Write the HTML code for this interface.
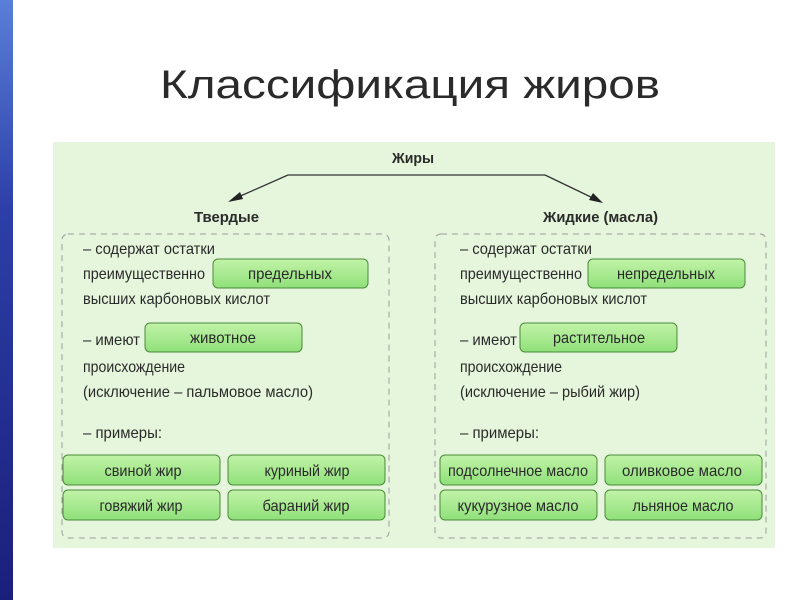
<!DOCTYPE html>
<html><head><meta charset="utf-8"><style>
html,body{margin:0;padding:0;width:800px;height:600px;overflow:hidden;background:#fff}
svg{display:block}
text{font-family:"Liberation Sans",sans-serif;fill:#2a2a2a}
</style></head><body>
<svg width="800" height="600" viewBox="0 0 800 600">
<defs>
<linearGradient id="bl" x1="0" y1="0" x2="0" y2="1">
<stop offset="0" stop-color="#5a7fd8"/><stop offset="0.35" stop-color="#2c3fa8"/><stop offset="1" stop-color="#1a1f7a"/>
</linearGradient>
<linearGradient id="gb" x1="0" y1="0" x2="0" y2="1">
<stop offset="0" stop-color="#c2f3a8"/><stop offset="1" stop-color="#8fe07a"/>
</linearGradient>
</defs>
<rect x="0" y="0" width="13" height="600" fill="url(#bl)"/>
<text x="160" y="98" font-size="40" textLength="500" lengthAdjust="spacingAndGlyphs" fill="#111">Классификация жиров</text>
<rect x="53" y="142" width="722" height="406" fill="#e5f6dc"/>
<text x="392" y="163" font-size="15" font-weight="bold" textLength="42" lengthAdjust="spacingAndGlyphs">Жиры</text>
<polyline points="288,175 545,175" stroke="#333" stroke-width="1.3" fill="none"/>
<line x1="288" y1="175" x2="236" y2="198" stroke="#333" stroke-width="1.3"/>
<polygon points="228,202 240,192 243,199" fill="#222"/>
<line x1="545" y1="175" x2="595" y2="199" stroke="#333" stroke-width="1.3"/>
<polygon points="603,203 589,200 593,193" fill="#222"/>
<text x="194" y="222" font-size="15" font-weight="bold" textLength="65" lengthAdjust="spacingAndGlyphs">Твердые</text>
<text x="543" y="222" font-size="15" font-weight="bold" textLength="115" lengthAdjust="spacingAndGlyphs">Жидкие (масла)</text>
<rect x="62" y="234" width="327" height="304" rx="6" fill="none" stroke="#9c9c9c" stroke-dasharray="6,5"/>
<rect x="435" y="234" width="331" height="304" rx="6" fill="none" stroke="#9c9c9c" stroke-dasharray="6,5"/>
<g font-size="16">
<text x="83" y="254" textLength="132" lengthAdjust="spacingAndGlyphs">– содержат остатки</text>
<text x="83" y="279" textLength="122" lengthAdjust="spacingAndGlyphs">преимущественно</text>
<text x="83" y="304" textLength="187" lengthAdjust="spacingAndGlyphs">высших карбоновых кислот</text>
<text x="83" y="345" textLength="57" lengthAdjust="spacingAndGlyphs">– имеют</text>
<text x="83" y="372" textLength="102" lengthAdjust="spacingAndGlyphs">происхождение</text>
<text x="83" y="397" textLength="230" lengthAdjust="spacingAndGlyphs">(исключение – пальмовое масло)</text>
<text x="83" y="438" textLength="79" lengthAdjust="spacingAndGlyphs">– примеры:</text>
<text x="460" y="254" textLength="132" lengthAdjust="spacingAndGlyphs">– содержат остатки</text>
<text x="460" y="279" textLength="122" lengthAdjust="spacingAndGlyphs">преимущественно</text>
<text x="460" y="304" textLength="187" lengthAdjust="spacingAndGlyphs">высших карбоновых кислот</text>
<text x="460" y="345" textLength="57" lengthAdjust="spacingAndGlyphs">– имеют</text>
<text x="460" y="372" textLength="102" lengthAdjust="spacingAndGlyphs">происхождение</text>
<text x="460" y="397" textLength="180" lengthAdjust="spacingAndGlyphs">(исключение – рыбий жир)</text>
<text x="460" y="438" textLength="79" lengthAdjust="spacingAndGlyphs">– примеры:</text>
</g>
<g stroke="#4a8a3a" stroke-width="1" fill="url(#gb)">
<rect x="213" y="259" width="155" height="29" rx="5"/>
<rect x="145" y="323" width="157" height="29" rx="5"/>
<rect x="63" y="455" width="157" height="30" rx="5"/>
<rect x="228" y="455" width="157" height="30" rx="5"/>
<rect x="63" y="490" width="157" height="30" rx="5"/>
<rect x="228" y="490" width="157" height="30" rx="5"/>
<rect x="588" y="259" width="157" height="29" rx="5"/>
<rect x="520" y="323" width="157" height="29" rx="5"/>
<rect x="440" y="455" width="157" height="30" rx="5"/>
<rect x="605" y="455" width="157" height="30" rx="5"/>
<rect x="440" y="490" width="157" height="30" rx="5"/>
<rect x="605" y="490" width="157" height="30" rx="5"/>
</g>
<g font-size="16" text-anchor="middle">
<text x="290" y="279" textLength="84" lengthAdjust="spacingAndGlyphs">предельных</text>
<text x="223" y="343" textLength="66" lengthAdjust="spacingAndGlyphs">животное</text>
<text x="143" y="476" textLength="77" lengthAdjust="spacingAndGlyphs">свиной жир</text>
<text x="307" y="476" textLength="85" lengthAdjust="spacingAndGlyphs">куриный жир</text>
<text x="141" y="511" textLength="83" lengthAdjust="spacingAndGlyphs">говяжий жир</text>
<text x="306" y="511" textLength="87" lengthAdjust="spacingAndGlyphs">бараний жир</text>
<text x="666" y="279" textLength="98" lengthAdjust="spacingAndGlyphs">непредельных</text>
<text x="599" y="343" textLength="92" lengthAdjust="spacingAndGlyphs">растительное</text>
<text x="518" y="476" textLength="140" lengthAdjust="spacingAndGlyphs">подсолнечное масло</text>
<text x="682" y="476" textLength="120" lengthAdjust="spacingAndGlyphs">оливковое масло</text>
<text x="518" y="511" textLength="121" lengthAdjust="spacingAndGlyphs">кукурузное масло</text>
<text x="683" y="511" textLength="101" lengthAdjust="spacingAndGlyphs">льняное масло</text>
</g>
</svg>
</body></html>
